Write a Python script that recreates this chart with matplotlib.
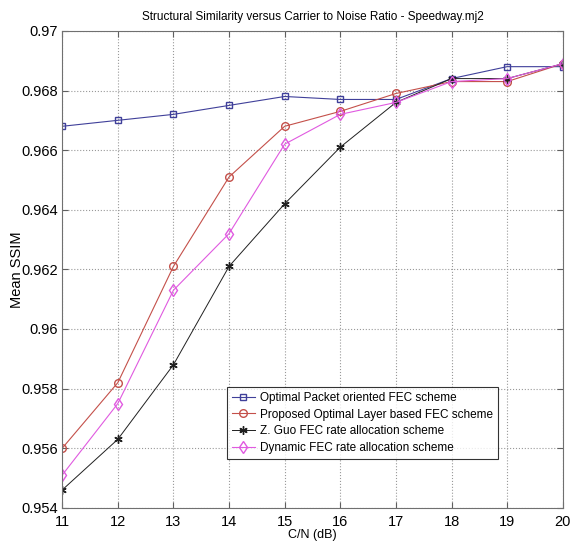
import matplotlib
matplotlib.use("Agg")
import matplotlib.pyplot as plt

plt.rcParams['font.family'] = ['Liberation Sans', 'DejaVu Sans']

# C/N values (dB)
cn = [11, 12, 13, 14, 15, 16, 17, 18, 19, 20]

# Mean SSIM for each scheme
packet_fec = [0.9668, 0.9670, 0.9672, 0.9675, 0.9678, 0.9677, 0.9677, 0.9684, 0.9688, 0.9688]
layer_fec = [0.9560, 0.9582, 0.9621, 0.9651, 0.9668, 0.9673, 0.9679, 0.9683, 0.9683, 0.9689]
guo_fec = [0.9546, 0.9563, 0.9588, 0.9621, 0.9642, 0.9661, 0.9676, 0.9684, 0.9684, 0.9689]
dynamic_fec = [0.9551, 0.9575, 0.9613, 0.9632, 0.9662, 0.9672, 0.9676, 0.9683, 0.9684, 0.9689]

labels = ["Optimal Packet oriented FEC scheme",
          "Proposed Optimal Layer based FEC scheme",
          "Z. Guo FEC rate allocation scheme",
          "Dynamic FEC rate allocation scheme"]

xticks = [11, 12, 13, 14, 15, 16, 17, 18, 19, 20]
yticks = [0.954, 0.956, 0.958, 0.96, 0.962, 0.964, 0.966, 0.968, 0.97]
ytick_labels = ["0.954", "0.956", "0.958", "0.96", "0.962", "0.964", "0.966", "0.968", "0.97"]

fig = plt.figure(figsize=(5.76, 5.42), dpi=100)
ax = fig.add_axes([0.108, 0.063, 0.869, 0.880])

ax.plot(cn, packet_fec, color="#40409a", marker="s", mfc="none", ms=5, lw=0.8, label=labels[0])
ax.plot(cn, layer_fec, color="#c4504a", marker="o", mfc="none", ms=5.5, lw=0.8, label=labels[1])
ax.plot(cn, guo_fec, color="#202020", marker=(6, 2, 0), ms=6, lw=0.7, label=labels[2])
ax.plot(cn, dynamic_fec, color="#e05ae0", marker="d", mfc="none", ms=6, lw=0.8, label=labels[3])

ax.set_xlim(11, 20)
ax.set_ylim(0.954, 0.97)
ax.set_xticks(xticks)
ax.set_yticks(yticks)
ax.set_yticklabels(ytick_labels)
ax.tick_params(direction="in", top=True, right=True, labelsize=10.5, length=4, color="#606060", pad=3)
ax.tick_params(axis="x", pad=5)
ax.grid(True, linestyle=":", color="#999999", linewidth=0.8)
for s in ax.spines.values():
    s.set_color("#707070")

ax.set_title("Structural Similarity versus Carrier to Noise Ratio - Speedway.mj2",
             fontsize=8.5, pad=8)
ax.set_xlabel("C/N (dB)", fontsize=9, labelpad=0)
ax.set_ylabel("Mean SSIM", fontsize=10.5)
ax.yaxis.set_label_coords(-0.0765, 0.5)

leg = ax.legend(loc="lower left", bbox_to_anchor=(0.329, 0.103), frameon=True, fancybox=False,
                edgecolor="black", borderpad=0.4, labelspacing=0.4, handlelength=2.0,
                handletextpad=0.4, borderaxespad=0, fontsize=8.5)
leg.get_frame().set_linewidth(0.8)

fig.savefig("out.png", dpi=100)
